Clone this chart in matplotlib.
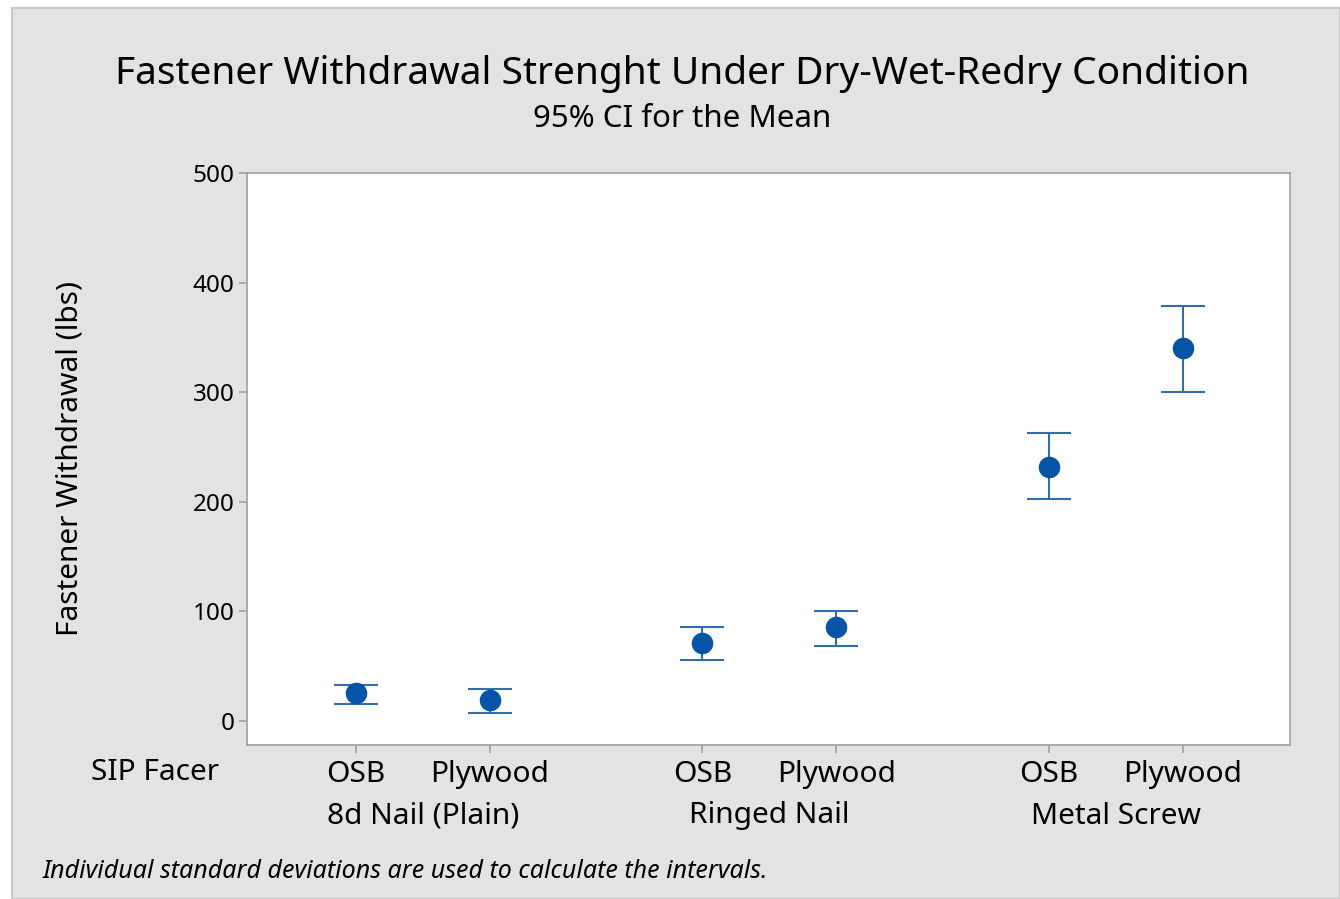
import numpy as np
import matplotlib
matplotlib.use('Agg')
import matplotlib.pyplot as plt
from matplotlib.patches import Rectangle

plt.rcParams['font.family'] = ['Noto Sans', 'DejaVu Sans']

# data (lbs)
groups = ['8d Nail (Plain)', 'Ringed Nail', 'Metal Screw']
facers = ['OSB', 'Plywood']
means = [25.5, 19.2, 71.2, 85.8, 231.8, 340.3]
ci_low = [15.5, 7.3, 55.7, 68.4, 202.6, 300.2]
ci_high = [32.8, 29.2, 85.8, 100.4, 262.8, 378.6]

# positions: two facers per group, wider gap between groups
gap = 2.59
pos = []
for g in range(len(groups)):
    for f in range(len(facers)):
        pos.append(g * gap + f)
pos = np.array(pos)
means = np.array(means)
err = np.array([means - np.array(ci_low), np.array(ci_high) - means])

W, H = 1340, 899
fig = plt.figure(figsize=(W / 100, H / 100), dpi=100, facecolor='white')
fig.patches.append(Rectangle((12 / W, 0), 1 - 12 / W, 1 - 8 / H, transform=fig.transFigure,
                             facecolor='#e3e3e3', edgecolor='#c8c8c8', lw=1.5, zorder=-1))

ax = fig.add_axes([247 / W, 1 - 745 / H, (1290 - 247) / W, (745 - 173) / H])
ax.set_facecolor('white')
ax.errorbar(pos, means, yerr=err, fmt='o', color='#0753a6', ms=14.5, ecolor='#2f6db5',
            elinewidth=1.5, capsize=15.5, capthick=1.5)

ax.set_ylim(-21.9, 500)
ax.set_xlim(-0.813, pos[-1] + 0.80)
ax.set_yticks([0, 100, 200, 300, 400, 500])
ax.set_xticks(pos)
ax.set_xticklabels(facers * len(groups))
for s in ax.spines.values():
    s.set_color('#a0a0a0')
    s.set_linewidth(1.2)
ax.tick_params(colors='#a0a0a0', labelcolor='black', labelsize=17.5, length=6, width=1.2, pad=3)
ax.tick_params(axis='x', labelsize=21.5, pad=5)

fig.text(70 / W, 1 - 459 / H, 'Fastener Withdrawal (lbs)', rotation=90, ha='center', va='center',
         fontsize=21.5)

# group labels under the facer labels
for g, name in enumerate(groups):
    xd = ax.transData.transform((g * gap + 0.5, 0))[0] / W
    fig.text(xd, 1 - 816 / H, name, ha='center', va='center', fontsize=21.5)
fig.text(155 / W, 1 - 773 / H, 'SIP Facer', ha='center', va='center', fontsize=21.5)

fig.text(682 / W, 1 - 74 / H, 'Fastener Withdrawal Strenght Under Dry-Wet-Redry Condition',
         ha='center', va='center', fontsize=28)
fig.text(682 / W, 1 - 119 / H, '95% CI for the Mean', ha='center', va='center', fontsize=22.5)
fig.text(43 / W, 1 - 872 / H, 'Individual standard deviations are used to calculate the intervals.',
         ha='left', va='center', fontsize=18, style='italic')

fig.savefig('out.png', dpi=100, facecolor=fig.get_facecolor())
